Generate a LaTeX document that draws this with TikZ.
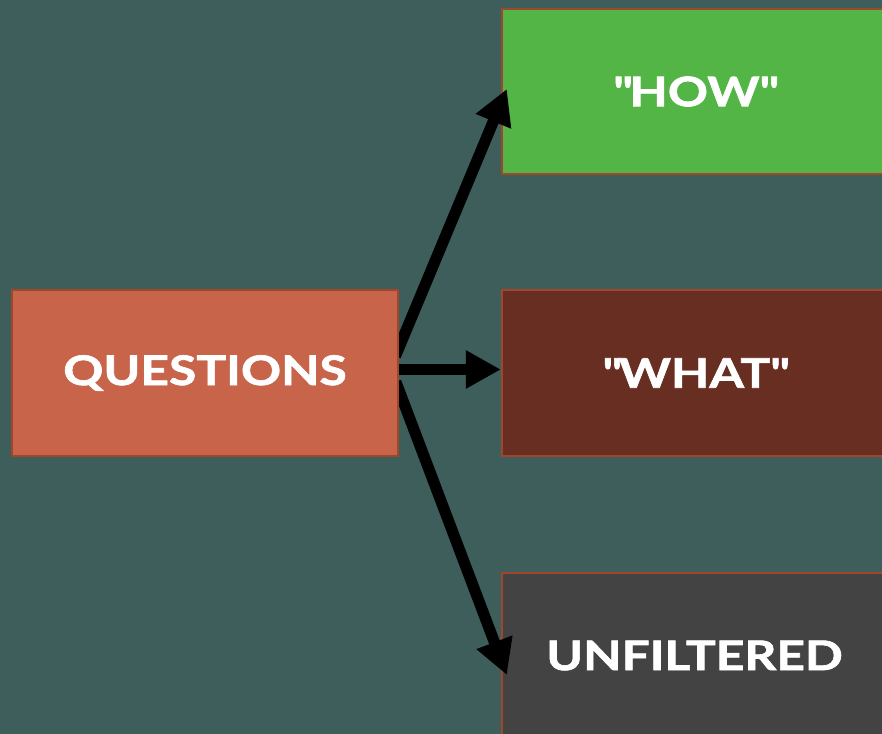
\documentclass[tikz,border=0pt]{standalone}
\usepackage{fontspec}
\setmainfont{Lato}[FakeStretch=1.22, BoldFeatures={FakeBold=1.6}]
\usepackage{tikz}
\usetikzlibrary{positioning, arrows.meta, calc}
\definecolor{QTeal}{RGB}{61,94,91}
\definecolor{QRust}{RGB}{200,100,74}
\definecolor{QEdge}{RGB}{160,70,45}
\definecolor{QGreen}{RGB}{82,181,69}
\definecolor{QBrown}{RGB}{104,46,33}
\definecolor{QGray}{RGB}{67,67,67}
\pgfdeclarelayer{back}
\pgfdeclarelayer{front}
\pgfsetlayers{back,main,front}

\begin{document}
\begin{tikzpicture}[
            x=0.025cm, y=-0.025cm,
            box/.style={rectangle, draw=QEdge, line width=0.05cm, inner sep=0pt,
                        minimum width=9.63cm, minimum height=4.13cm,
                        text=white, font=\bfseries\fontsize{29}{34}\selectfont},
            arr/.style={-{Triangle[length=0.875cm, width=0.9cm]},
                        line width=0.28cm, shorten <=-0.3cm}
          ]
          \useasboundingbox (0,0) rectangle (882,734);
          \begin{pgfonlayer}{back}
            \fill[QTeal] (0,0) rectangle (882,734);
          \end{pgfonlayer}

          % source box on the left, in front so the link ends tuck under it
          \begin{pgfonlayer}{front}
            \node[box, fill=QRust, minimum width=9.65cm, minimum height=4.15cm]
                  (questions) at (205,373) {QUESTIONS};
          \end{pgfonlayer}

          % three targets on the right
          \node[box, fill=QGreen] (how)  at (694.5,91.5)  {\textquotedbl HOW\textquotedbl};
          \node[box, fill=QBrown] (what) at (694.5,373)   {\textquotedbl WHAT\textquotedbl};
          \node[box, fill=QGray]  (unf)  at (694.5,655.5) {UNFILTERED};

          % links, heads drawn over the targets
          \draw[arr] ($(questions.east)+(1,-28)$)  -- ($(how.west)+(6,-2.5)$);
          \draw[arr] ($(questions.east)+(1,-3.5)$) -- ($(what.west)+(0,-3.5)$);
          \draw[arr] ($(questions.east)+(1,20)$)   -- ($(unf.west)+(6,19.5)$);
        \end{tikzpicture}
\end{document}
